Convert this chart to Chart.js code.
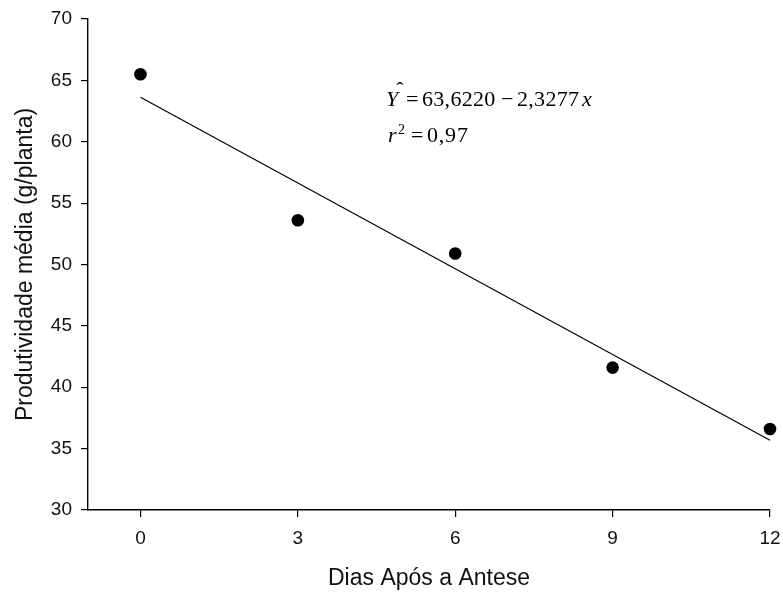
<!DOCTYPE html>
<html>
<head>
<meta charset="utf-8">
<script src="https://cdn.jsdelivr.net/npm/chart.js@4"></script>
<style>
html,body{margin:0;padding:0;background:#fff;}
#wrap{width:783px;height:592px;}
</style>
</head>
<body>
<div id="wrap"><canvas id="c" width="783" height="592"></canvas></div>
<script>
const days = [0, 3, 6, 9, 12];
const yieldMean = [65.5, 53.6, 50.9, 41.6, 36.6];
const fitX = [0, 12];
const fitY = [63.622, 63.622 - 2.3277 * 12];
const xTicks = [0, 3, 6, 9, 12];
const yTicks = [30, 35, 40, 45, 50, 55, 60, 65, 70];

const eqPlugin = {
  id: 'eq',
  afterDraw(chart) {
    const ctx = chart.ctx;
    ctx.save();
    ctx.fillStyle = '#000';
    ctx.textBaseline = 'alphabetic';
    ctx.textAlign = 'left';
    const serif = '"Liberation Serif", "Times New Roman", serif';
    const put = (txt, x, y, font, ls) => {
      ctx.font = font;
      ctx.letterSpacing = ls || '0px';
      ctx.fillText(txt, x, y);
    };
    const it = 'italic 22px ' + serif, rm = '22px ' + serif;
    let y = 106;
    put('Y', 386, y, it);
    ctx.textAlign = 'center';
    put('\u02C6', 400, y - 9, rm);
    ctx.textAlign = 'left';
    put('=', 406, y, rm);
    put('63,6220', 422, y, rm, '0.3px');
    put('\u2212', 501, y, rm);
    put('2,3277', 517, y, rm, '0.3px');
    put('x', 582, y, it);
    y = 142;
    put('r', 388, y, it);
    put('2', 398, y - 8, '14px ' + serif);
    put('=', 411, y, rm);
    put('0,97', 427, y, rm, '0.8px');
    ctx.restore();
  }
};

const sans = '"Liberation Sans", Arial, sans-serif';

new Chart(document.getElementById('c'), {
  type: 'scatter',
  data: {
    datasets: [
      {
        label: 'Produtividade',
        data: days.map((d, i) => ({x: d, y: yieldMean[i]})),
        pointRadius: 6.3,
        pointBackgroundColor: '#000',
        pointBorderColor: '#000',
        pointBorderWidth: 0,
        showLine: false,
        clip: false
      },
      {
        label: 'Regressão',
        data: fitX.map((d, i) => ({x: d, y: fitY[i]})),
        showLine: true,
        borderColor: '#000',
        borderWidth: 1.2,
        pointRadius: 0,
        fill: false,
        clip: false
      }
    ]
  },
  options: {
    responsive: false,
    animation: false,
    devicePixelRatio: 1,
    layout: {padding: {top: 19, right: 13, bottom: 0, left: 0}},
    plugins: {legend: {display: false}, tooltip: {enabled: false}},
    scales: {
      x: {
        type: 'linear',
        min: -1, max: 12,
        afterBuildTicks(s) { s.ticks = xTicks.map(v => ({value: v})); },
        afterFit(s) { s.height = 82; s.paddingRight = 0; s.paddingLeft = 0; },
        grid: {drawOnChartArea: false, drawTicks: true, tickLength: 7, color: '#000', lineWidth: 1.2},
        border: {display: true, color: '#000', width: 1.4},
        ticks: {color: '#111', font: {family: sans, size: 19}, padding: 10, maxRotation: 0},
        title: {display: true, text: 'Dias Após a Antese', color: '#111', font: {family: sans, size: 23}, padding: {top: 0, bottom: 0}}
      },
      y: {
        type: 'linear',
        min: 30, max: 70,
        afterBuildTicks(s) { s.ticks = yTicks.map(v => ({value: v})); },
        afterFit(s) { s.width = 88; s.paddingTop = 0; s.paddingBottom = 0; },
        grid: {drawOnChartArea: false, drawTicks: true, tickLength: 7, color: '#000', lineWidth: 1.2},
        border: {display: true, color: '#000', width: 1.4},
        ticks: {color: '#111', font: {family: sans, size: 19}, padding: 9},
        title: {display: true, text: 'Produtividade média (g/planta)', color: '#111', font: {family: sans, size: 23}, padding: {top: 12, bottom: 0}}
      }
    }
  },
  plugins: [eqPlugin]
});
</script>
</body>
</html>
